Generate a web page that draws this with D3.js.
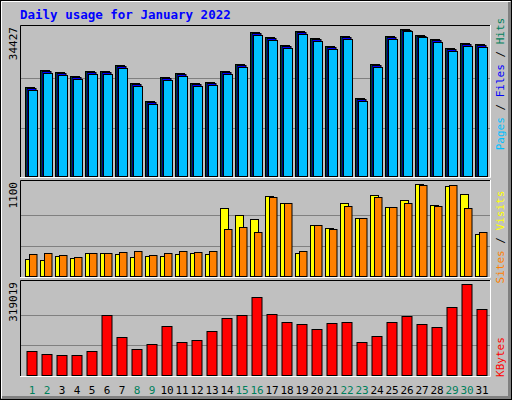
<!DOCTYPE html>
<html><head><meta charset="utf-8">
<script src="https://cdn.jsdelivr.net/npm/d3@7"></script>
<style>body{margin:0;background:#fff}svg{display:block}</style>
</head><body>
<script>
const days = d3.range(1, 32)
const weekends = [1, 2, 8, 9, 15, 16, 22, 23, 29, 30]
const hits = [20844, 24825, 24357, 23420, 24591, 24591, 25996, 21781, 17565, 23186, 24123, 21781, 22015, 24591, 26230, 33725, 32554, 30680, 33959, 32320, 30446, 32788, 18268, 26230, 32788, 34427, 33022, 32085, 29978, 31149, 30914]
const files = [20700, 24600, 24150, 23200, 24350, 24400, 25800, 21600, 17350, 22950, 23850, 21600, 21800, 24350, 26000, 33450, 32300, 30450, 33700, 32100, 30200, 32550, 18050, 26000, 32550, 34200, 32800, 31850, 29750, 30900, 30650]
const pages = [20300, 24250, 23800, 22850, 24000, 24000, 25450, 21250, 16950, 22600, 23500, 21250, 21450, 24000, 25650, 33100, 31950, 30100, 33350, 31750, 29850, 32200, 17650, 25650, 32200, 33900, 32450, 31500, 29400, 30550, 30300]
const visits = [215, 203, 251, 227, 287, 287, 275, 239, 251, 251, 275, 287, 275, 813, 729, 682, 957, 873, 287, 610, 574, 873, 694, 969, 825, 909, 1100, 849, 1076, 981, 514]
const sites = [275, 287, 263, 239, 287, 287, 299, 311, 263, 287, 311, 299, 311, 562, 586, 538, 945, 873, 311, 610, 562, 837, 694, 945, 825, 873, 1088, 837, 1088, 813, 538]
const kbytes = [87645, 77128, 73622, 73622, 87645, 210348, 136726, 94657, 112186, 171784, 119197, 126209, 157761, 199831, 210348, 273453, 213854, 185807, 178796, 161267, 182302, 185807, 119197, 140232, 185807, 206842, 178796, 168278, 238394, 319019, 231383]

const svg = d3.select('body').append('svg').attr('width', 512).attr('height', 400)
const font = 'DejaVu Sans Mono, monospace'

// outer box with bevel
svg.append('rect').attr('x', 0).attr('y', 0).attr('width', 512).attr('height', 400).attr('fill', '#c0c0c0')
svg.append('path').attr('d', 'M1.5 398 V1.5 H510').attr('stroke', '#fff').attr('fill', 'none')
svg.append('path').attr('d', 'M2 397.5 H509.5 V2').attr('stroke', '#808080').attr('stroke-width', 3).attr('fill', 'none')
svg.append('rect').attr('x', 0.5).attr('y', 0.5).attr('width', 511).attr('height', 399).attr('stroke', '#000').attr('fill', 'none')

svg.append('text').attr('x', 20).attr('y', 19).attr('fill', '#0000ff')
  .attr('font-family', font).attr('font-weight', 'bold').attr('font-size', 12.5)
  .text('Daily usage for January 2022')

const x = d3.scaleLinear().domain([1, 31]).range([25, 475])

const panel = (top, bottom, max, label) => {
  svg.append('path').attr('d', `M20.5 ${bottom} V${top + 0.5} H491`).attr('stroke', '#000').attr('fill', 'none')
  svg.append('path').attr('d', `M20 ${bottom + 0.5} H490.5 V${top}`).attr('stroke', '#fff').attr('fill', 'none')
  const y = d3.scaleLinear().domain([0, max]).range([bottom, top + 4])
  ;[max / 3, max * 2 / 3].forEach(v => {
    svg.append('line').attr('x1', 21).attr('x2', 490).attr('y1', Math.round(y(v)) + 0.5).attr('y2', Math.round(y(v)) + 0.5)
      .attr('stroke', '#808080')
  })
  svg.append('text').attr('transform', `translate(17,${top + 2}) rotate(-90)`).attr('text-anchor', 'end')
    .attr('font-family', font).attr('font-size', 11).attr('fill', '#000').text(label)
  return y
}

const bars = (y, data, dx, w, color) => {
  svg.append('g').selectAll('rect').data(data).join('rect')
    .attr('x', (d, i) => x(days[i]) + dx + 0.5)
    .attr('y', d => Math.round(y(d)) + 0.5)
    .attr('width', w)
    .attr('height', d => y(0) - Math.round(y(d)) - 1)
    .attr('fill', color).attr('stroke', '#000')
}

const y1 = panel(25, 177, 34427, '34427')
bars(y1, hits, 0, 9, '#00805c')
bars(y1, files, 1.5, 9, '#0000ff')
bars(y1, pages, 3, 9, '#00c0ff')

const y2 = panel(180, 277, 1100, '1100')
bars(y2, visits, 0, 8, '#ffff00')
bars(y2, sites, 4, 7.5, '#ff8000')

const y3 = panel(280, 376, 319019, '319019')
bars(y3, kbytes, 1.5, 10, '#ff0000')

// right-side legends
const legend = (cy, parts) => {
  const t = svg.append('text').attr('transform', `translate(504,${cy}) rotate(-90)`).attr('text-anchor', 'middle')
    .attr('font-family', font).attr('font-size', 11)
  parts.forEach(([s, c]) => t.append('tspan').attr('fill', c).text(s))
}
legend(84, [['Pages', '#00c0ff'], [' / ', '#000'], ['Files', '#0000ff'], [' / ', '#000'], ['Hits', '#00805c']])
legend(237, [['Sites', '#ff8000'], [' / ', '#000'], ['Visits', '#ffff00']])
legend(357, [['KBytes', '#ff0000']])

svg.append('g').selectAll('text').data(days).join('text')
  .attr('x', d => x(d) + 7).attr('y', 394).attr('text-anchor', 'middle')
  .attr('font-family', font).attr('font-size', 11)
  .attr('fill', d => weekends.includes(d) ? '#00805c' : '#000')
  .text(d => d)
</script>
</body></html>
